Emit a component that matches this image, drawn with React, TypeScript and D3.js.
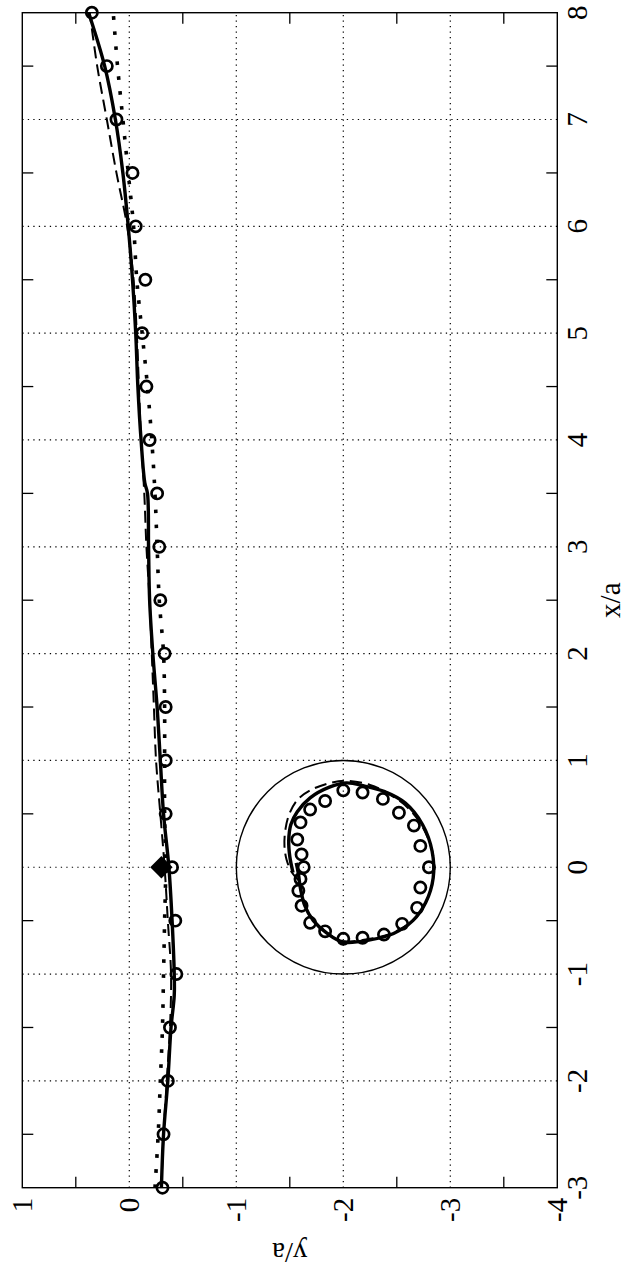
import React from 'react';
import * as d3 from 'd3';

// main track, x/a positions of the open circles
const markerX = [-3, -2.5, -2, -1.5, -1, -0.5, 0, 0.5, 1, 1.5, 2, 2.5, 3, 3.5, 4, 4.5, 5, 5.5, 6, 6.5, 7, 7.5, 8];
const markerY = [-0.31, -0.32, -0.36, -0.38, -0.44, -0.43, -0.40, -0.34, -0.34, -0.34, -0.33, -0.29, -0.28, -0.26, -0.19, -0.16, -0.12, -0.15, -0.06, -0.03, 0.12, 0.21, 0.35];

// solid track
const solidX = [-3, -2.5, -2, -1.5, -1.2, -1, -0.5, 0, 0.5, 1, 1.5, 2, 2.5, 3, 3.5, 3.6, 4, 4.5, 5, 5.5, 6, 6.5, 7, 7.5, 8];
const solidY = [-0.30, -0.32, -0.36, -0.39, -0.42, -0.42, -0.40, -0.37, -0.32, -0.29, -0.26, -0.22, -0.19, -0.18, -0.17, -0.145, -0.11, -0.08, -0.06, -0.03, 0.01, 0.06, 0.13, 0.23, 0.38];

// dashed track
const dashX = [-3, -2.5, -2, -1.5, -1, -0.5, 0, 0.5, 1, 1.5, 2, 2.5, 3, 3.5, 4, 4.5, 5, 5.5, 6, 6.5, 7, 7.5, 8];
const dashY = [-0.30, -0.32, -0.35, -0.38, -0.39, -0.36, -0.33, -0.29, -0.25, -0.23, -0.21, -0.19, -0.16, -0.14, -0.11, -0.09, -0.07, -0.04, 0.02, 0.12, 0.21, 0.30, 0.37];

// dotted track
const dotX = [-3, -2.5, -2, -1.5, -1, -0.5, 0, 0.5, 1, 1.5, 2, 2.5, 3, 3.5, 4, 4.5, 5, 5.5, 6, 6.5, 7, 7.5, 8];
const dotY = [-0.24, -0.27, -0.29, -0.31, -0.32, -0.33, -0.34, -0.33, -0.33, -0.33, -0.32, -0.28, -0.26, -0.24, -0.21, -0.17, -0.12, -0.07, -0.04, 0.01, 0.06, 0.11, 0.15];

// loop inside the circle (x/a, y/a)
const loopMarkers: [number, number][] = [
  [0.72, -2.0], [0.70, -2.18], [0.64, -2.37], [0.51, -2.52], [0.39, -2.66], [0.20, -2.72],
  [0.0, -2.80], [-0.19, -2.72], [-0.38, -2.69], [-0.53, -2.55], [-0.63, -2.38], [-0.66, -2.18],
  [-0.67, -2.0], [-0.60, -1.83], [-0.52, -1.69], [-0.36, -1.61], [-0.22, -1.58], [-0.11, -1.60],
  [0.0, -1.63], [0.12, -1.61], [0.26, -1.57], [0.42, -1.60], [0.54, -1.69], [0.62, -1.83]
];
const loopSolid: [number, number][] = [
  [-0.05, -1.53], [0.1, -1.50], [0.25, -1.49], [0.4, -1.51], [0.52, -1.57], [0.65, -1.69],
  [0.75, -1.87], [0.79, -2.03], [0.76, -2.2], [0.71, -2.38], [0.60, -2.58], [0.40, -2.74],
  [0.15, -2.83], [-0.10, -2.84], [-0.33, -2.77], [-0.50, -2.65], [-0.62, -2.47], [-0.68, -2.25],
  [-0.70, -2.0], [-0.62, -1.85], [-0.50, -1.72], [-0.36, -1.64], [-0.20, -1.60], [-0.06, -1.58], [0.04, -1.56]
];
const loopDash: [number, number][] = [
  [-0.12, -1.58], [-0.05, -1.52], [0.07, -1.47], [0.2, -1.45], [0.36, -1.46], [0.51, -1.50],
  [0.64, -1.58], [0.73, -1.71], [0.79, -1.88], [0.81, -2.03], [0.77, -2.25], [0.69, -2.42],
  [0.56, -2.6], [0.36, -2.75], [0.11, -2.84], [-0.11, -2.84], [-0.33, -2.77], [-0.49, -2.66],
  [-0.61, -2.47], [-0.67, -2.25], [-0.69, -1.97], [-0.61, -1.85], [-0.50, -1.72], [-0.36, -1.64],
  [-0.21, -1.60], [-0.05, -1.58]
];
const diamond: [number, number] = [0, -0.30];

const xTicks = [-3, -2, -1, 0, 1, 2, 3, 4, 5, 6, 7, 8];
const yTicks = [1, 0, -1, -2, -3, -4];
const xMinor = [-2.5, -1.5, -0.5, 0.5, 1.5, 2.5, 3.5, 4.5, 5.5, 6.5, 7.5];
const yMinor = [0.5, -0.5, -1.5, -2.5, -3.5];

const W = 628;
const H = 1271;
const FONT = "'Liberation Serif', 'Times New Roman', serif";

export default function App() {
  // drawn as a normal chart in a H x W box, then turned -90deg
  const x = d3.scaleLinear().domain([-3, 8]).range([83.3, 1258.3]);
  const y = d3.scaleLinear().domain([1, -4]).range([22.3, 557.3]);
  const [x0, x1] = x.range();
  const [y0, y1] = y.range();

  const line = d3.line<[number, number]>()
    .x(d => x(d[0]))
    .y(d => y(d[1]))
    .curve(d3.curveCatmullRom);

  const zip = (a: number[], b: number[]) => a.map((v, i) => [v, b[i]] as [number, number]);

  const tl = 11;
  const diamondPath = d3.symbol(d3.symbolSquare, 250)();

  return (
    <svg width={W} height={H} style={{ position: 'absolute', left: 0, top: 0, background: '#fff' }}>
      <g transform={`translate(0,${H}) rotate(-90)`}>
        {/* grid */}
        {xTicks.filter(t => t > -3 && t < 8).map(t => (
          <line key={'gx' + t} x1={x(t)} x2={x(t)} y1={y0} y2={y1}
            stroke="#000" strokeWidth={1.2} strokeDasharray="1.3 4.2" />
        ))}
        {yTicks.filter(t => t < 1 && t > -4).map(t => (
          <line key={'gy' + t} x1={x0} x2={x1} y1={y(t)} y2={y(t)}
            stroke="#000" strokeWidth={1.2} strokeDasharray="1.3 4.2" />
        ))}

        {/* minor ticks, all four sides */}
        {xMinor.map(t => (
          <g key={'tx' + t}>
            <line x1={x(t)} x2={x(t)} y1={y1} y2={y1 - tl} stroke="#000" strokeWidth={1.3} />
            <line x1={x(t)} x2={x(t)} y1={y0} y2={y0 + tl} stroke="#000" strokeWidth={1.3} />
          </g>
        ))}
        {yMinor.map(t => (
          <g key={'ty' + t}>
            <line x1={x0} x2={x0 + tl} y1={y(t)} y2={y(t)} stroke="#000" strokeWidth={1.3} />
            <line x1={x1} x2={x1 - tl} y1={y(t)} y2={y(t)} stroke="#000" strokeWidth={1.3} />
          </g>
        ))}

        <rect x={x0} y={y0} width={x1 - x0} height={y1 - y0} fill="none" stroke="#000" strokeWidth={1.4} />

        {/* tick labels */}
        {xTicks.map(t => (
          <text key={'lx' + t} x={x(t)} y={y1 + 30} textAnchor="middle"
            fontFamily={FONT} fontSize={29}>{t}</text>
        ))}
        {yTicks.map(t => (
          <text key={'ly' + t} x={x0 - 10} y={y(t) + 9.5} textAnchor="end"
            fontFamily={FONT} fontSize={29}>{t}</text>
        ))}
        <text x={(x0 + x1) / 2} y={620} textAnchor="middle" fontFamily={FONT} fontSize={29}>x/a</text>
        <text transform={`translate(28,${(y0 + y1) / 2}) rotate(-90)`} textAnchor="middle"
          fontFamily={FONT} fontSize={29}>y/a</text>

        {/* reference circle */}
        <ellipse cx={x(0)} cy={y(-2)} rx={x(1) - x(0)} ry={y(-3) - y(-2)}
          fill="none" stroke="#000" strokeWidth={1.4} />

        {/* diamond */}
        <path d={diamondPath || ''} fill="#000"
          transform={`translate(${x(diamond[0])},${y(diamond[1])}) rotate(45)`} />

        {/* dotted */}
        <path d={line(zip(dotX, dotY)) || ''} fill="none" stroke="#000" strokeWidth={3.6} strokeDasharray="3.6 11.4" />

        {/* dashed */}
        <path d={line(zip(dashX, dashY)) || ''} fill="none" stroke="#000" strokeWidth={2} strokeDasharray="12 6" />
        <path d={line(loopDash) || ''} fill="none" stroke="#000" strokeWidth={2} strokeDasharray="12 6" />

        {/* solid */}
        <path d={line(zip(solidX, solidY)) || ''} fill="none" stroke="#000" strokeWidth={3.4} strokeLinejoin="round" />
        <path d={line(loopSolid) || ''} fill="none" stroke="#000" strokeWidth={3.4} strokeLinejoin="round" />

        {/* markers */}
        {zip(markerX, markerY).map((d, i) => (
          <circle key={'m' + i} cx={x(d[0])} cy={y(d[1])} r={5.6} fill="none" stroke="#000" strokeWidth={2.7} />
        ))}
        {loopMarkers.map((d, i) => (
          <circle key={'lm' + i} cx={x(d[0])} cy={y(d[1])} r={5.6} fill="none" stroke="#000" strokeWidth={2.7} />
        ))}
      </g>
    </svg>
  );
}
